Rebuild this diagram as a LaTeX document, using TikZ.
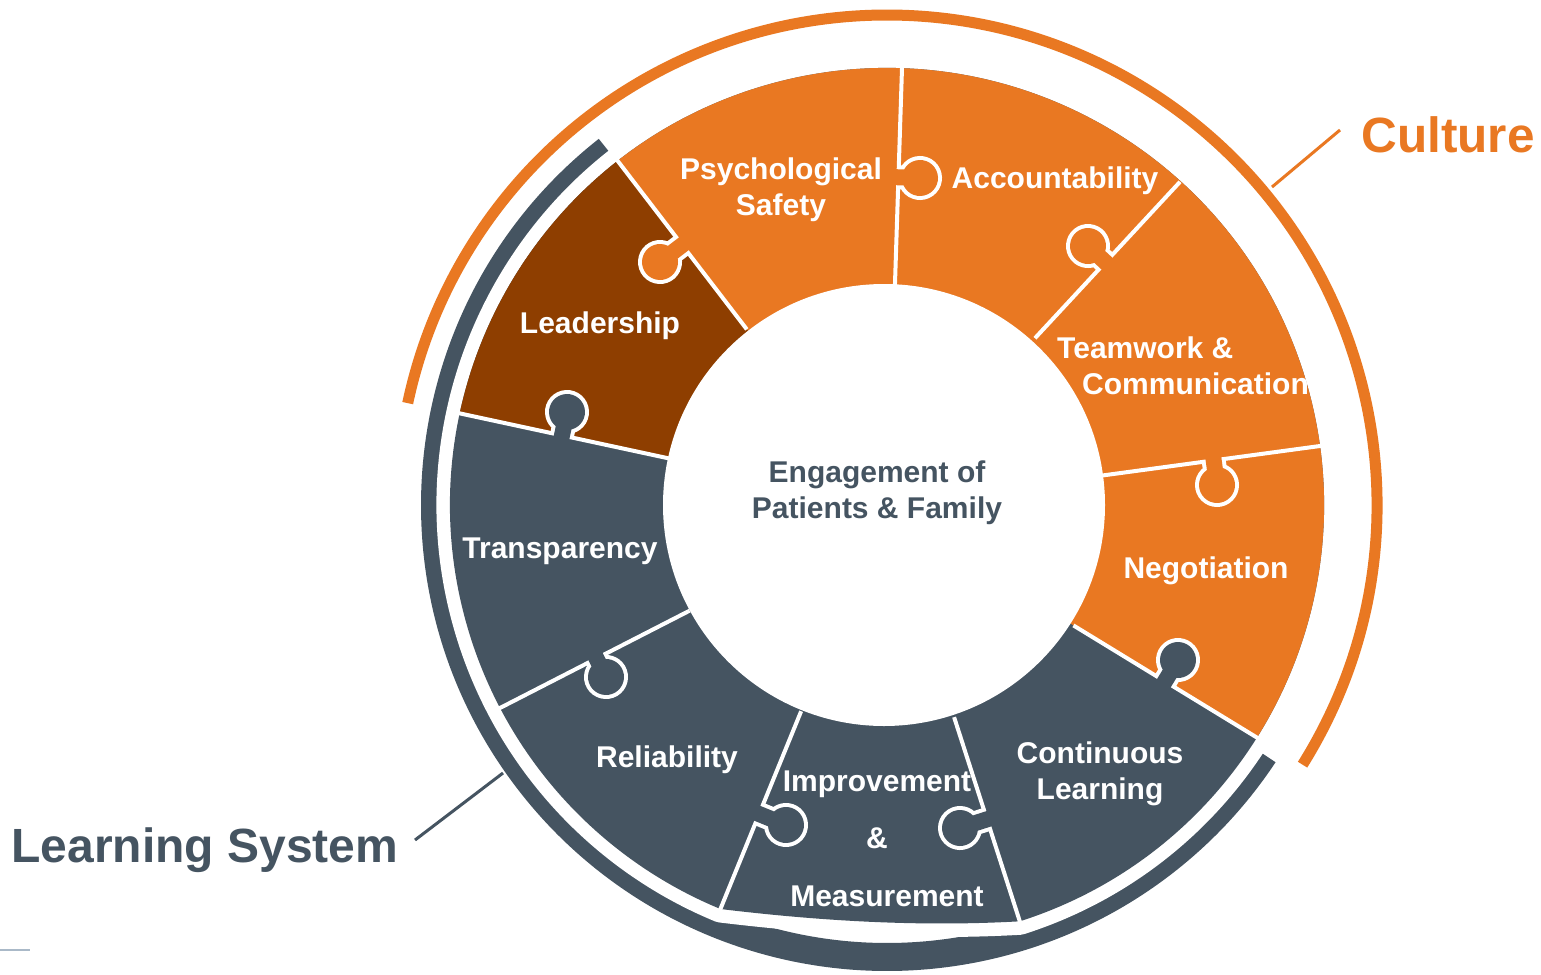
\documentclass[tikz,border=0pt]{standalone}
\usepackage{fontspec}
\setmainfont{Liberation Sans}
\usetikzlibrary{calc}
\definecolor{cOrange}{RGB}{233,120,34}
\definecolor{cBrown}{RGB}{142,62,0}
\definecolor{cSlate}{RGB}{69,84,97}
\definecolor{cFaint}{RGB}{170,185,200}

\newcommand\puzknob[4]{%
  \begin{scope}[shift={#1},rotate=#2]
    \draw[white,line width=8pt] (-#3,-8) -- (-16.13,-8) arc[start angle=206.4,end angle=513.6,radius=18] -- (-#3,8);
    \fill[#4] (-#3-6,-8) -- (-16.13,-8) arc[start angle=206.4,end angle=513.6,radius=18] -- (-#3-6,8) -- cycle;
  \end{scope}}
\newcommand\ringpath{($(Co)+(-72.3:437)$) arc[start angle=-72.3,end angle=247.6,radius=437] .. controls (820,-921) and (920,-927) .. ($(Co)+(-72.3:437)$) -- cycle}

\tikzset{
  lbl/.style={text=white,font=\fontsize{30}{36}\selectfont\bfseries,inner sep=0pt,align=center},
  sep/.style={white,line width=4pt,shorten <=-3pt,shorten >=-3pt},
  bigtitle/.style={font=\fontsize{48}{56}\selectfont\bfseries,inner sep=0pt,anchor=base}
}

\begin{document}
\begin{tikzpicture}[x=1pt,y=1pt]
\useasboundingbox (0,0) rectangle (1541,-974);
\fill[white] (0,0) rectangle (1541,-974);

\coordinate (Co) at (887,-505);
\coordinate (Ci) at (884,-505);
\coordinate (A1) at (745,-327);  \coordinate (B1) at (617,-160);
\coordinate (A2) at (895,-283);  \coordinate (B2) at (902,-68);
\coordinate (A3) at (1037,-336); \coordinate (B3) at (1178,-184);
\coordinate (A4) at (1106,-475); \coordinate (B4) at (1320,-446);
\coordinate (A5) at (1076,-627); \coordinate (B5) at (1256,-737);
\coordinate (A6) at (955,-720);  \coordinate (B6) at (1020,-922);
\coordinate (A7) at (800,-714);  \coordinate (B7) at (720,-910);
\coordinate (A8) at (687,-612);  \coordinate (B8) at (498,-709);
\coordinate (A9) at (667,-458);  \coordinate (B9) at (458,-413);

% outer arcs
\draw[cOrange,line width=11pt] ($(Co)+(-32:490)$) arc[start angle=-32,end angle=168,radius=490];
\draw[cSlate,line width=28pt] ($(Co)+(128.2:452)$) arc[start angle=128.2,end angle=326.5,radius=452];
% white gap round the ring
\draw[white,line width=27pt,line join=round] \ringpath;

% ring pieces
\fill[cSlate] \ringpath;
\begin{scope}
  \clip (Ci) -- (A1) -- ($(A1)!3!(B1)$) -- ($(A2)!3!(B2)$) -- ($(A3)!3!(B3)$) -- ($(A4)!3!(B4)$) -- ($(A5)!3!(B5)$) -- (A5) -- cycle;
  \fill[cOrange] \ringpath;
\end{scope}
\begin{scope}
  \clip (Ci) -- (A9) -- ($(A9)!3!(B9)$) -- ($(A1)!3!(B1)$) -- (A1) -- cycle;
  \fill[cBrown] \ringpath;
\end{scope}
\fill[white] (Ci) circle[radius=221];

% separators
\foreach \i in {1,...,9} \draw[sep] (A\i) -- (B\i);

% puzzle knobs
\puzknob{(660,-262)}{217.4}{27.8}{cOrange}
\puzknob{(920,-178)}{-1.9}{21.6}{cOrange}
\puzknob{(1088,-246)}{137.1}{23.8}{cOrange}
\puzknob{(1217,-485)}{-82.3}{24.8}{cOrange}
\puzknob{(1178,-660)}{58.6}{25}{cSlate}
\puzknob{(960,-828)}{197.8}{28.4}{cSlate}
\puzknob{(786,-825)}{-22.2}{29}{cSlate}
\puzknob{(606,-677)}{-62.8}{20.8}{cSlate}
\puzknob{(567,-412)}{77.9}{24}{cSlate}

% labels
\node[lbl,anchor=base] (leadership) at (600,-333) {Leadership};
\node[lbl] (psych) at (781,-189.5) {Psychological\\Safety};
\node[lbl,anchor=base] (account) at (1055,-188) {Accountability};
\node[lbl,align=left,anchor=west] (team) at (1057,-366) {Teamwork \&\\\hspace*{25pt}Communication};
\node[lbl,anchor=base] (nego) at (1206,-578) {Negotiation};
\node[lbl] (contl) at (1100,-773.5) {Continuous\\Learning};
\node[lbl,font=\fontsize{30}{57.5}\selectfont\bfseries] (improve) at (877,-838.8) {Improvement\\\&\\\hspace*{20pt}Measurement};
\node[lbl,anchor=base] (reliab) at (667,-767) {Reliability};
\node[lbl,anchor=base] (transp) at (560,-558) {Transparency};
\node[lbl,text=cSlate] (engage) at (877,-493) {Engagement of\\Patients \& Family};

\node[bigtitle,text=cOrange,font=\fontsize{49.5}{58}\selectfont\bfseries] (culture) at (1448,-152) {Culture};
\node[bigtitle,text=cSlate] (learnsys) at (205,-862) {Learning System};

\coordinate (cuTip) at (1340,-130);
\coordinate (cuArc) at (1272,-187);
\draw[cOrange,line width=3pt] (cuTip) -- (cuArc);
\coordinate (lsTip) at (415,-840);
\coordinate (lsArc) at (503,-773);
\draw[cSlate,line width=3pt] (lsTip) -- (lsArc);

\coordinate (fA) at (0,-950);
\coordinate (fB) at (30,-950);
\draw[cFaint,line width=1.5pt] (fA) -- (fB);
\end{tikzpicture}
\end{document}
